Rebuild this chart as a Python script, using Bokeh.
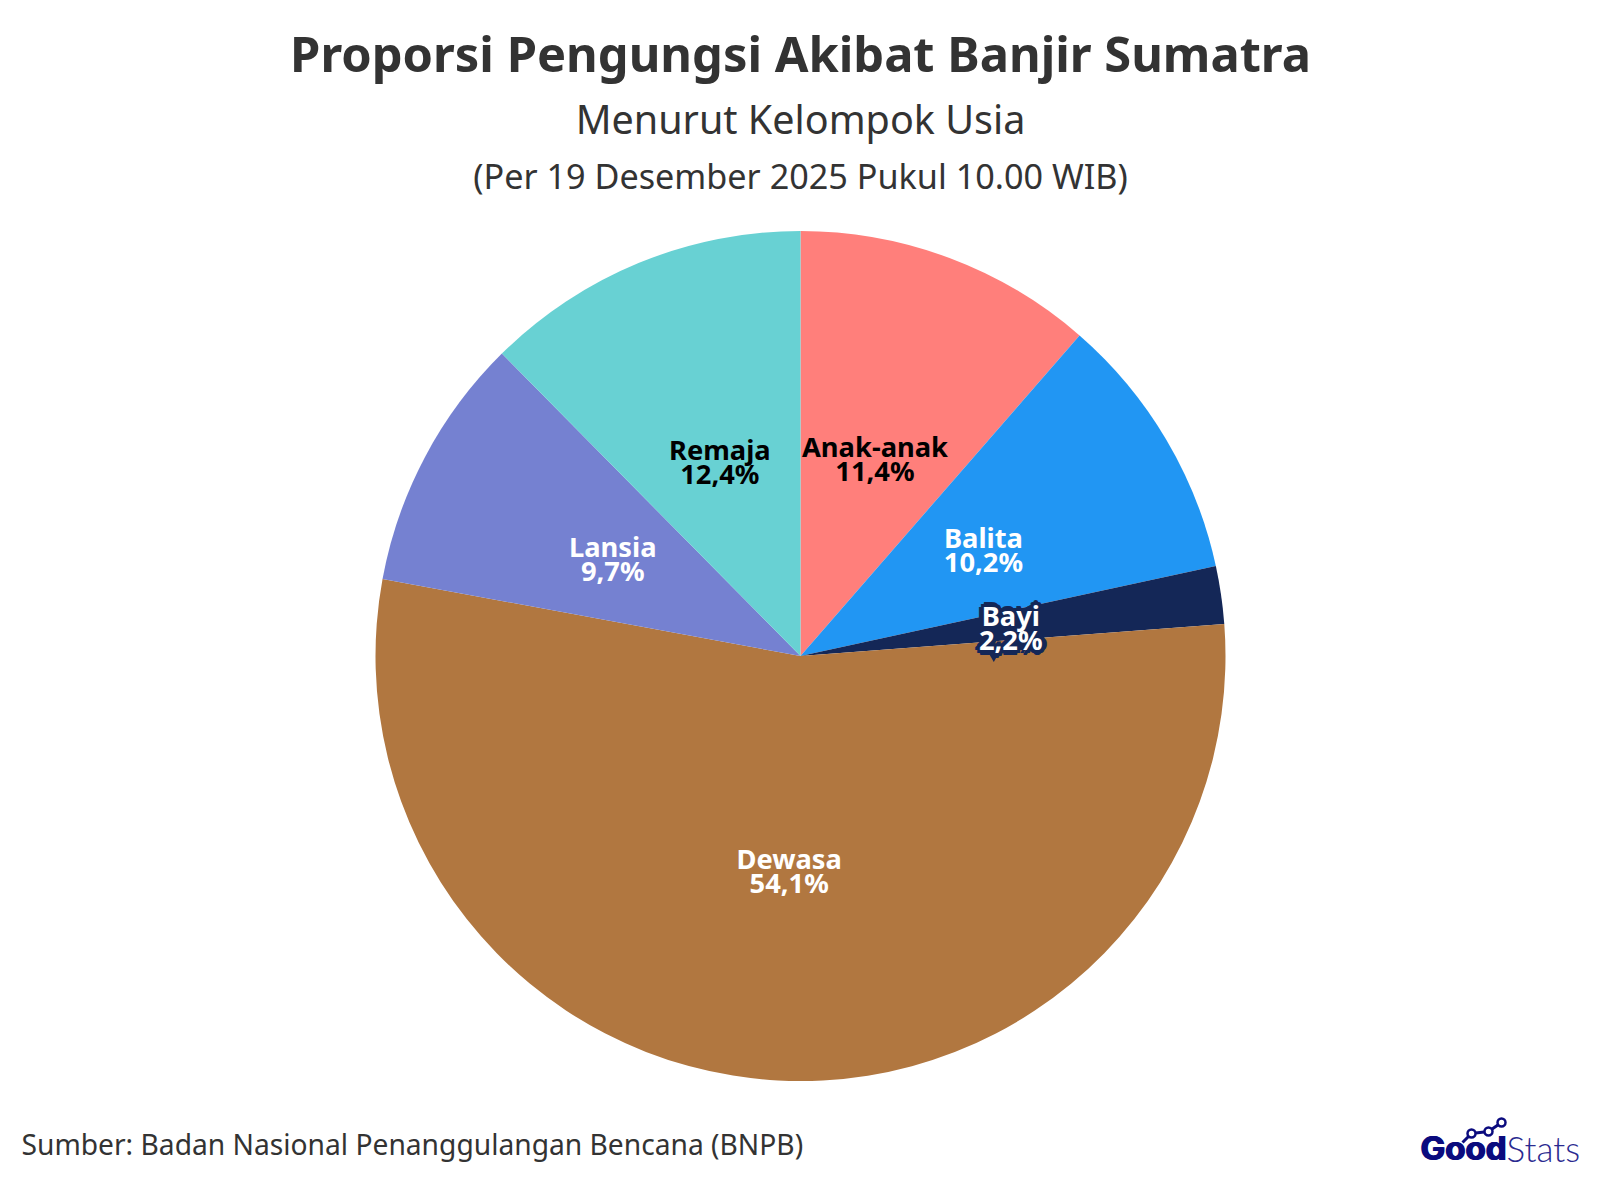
from math import pi, sin, cos
from bokeh.plotting import figure
from bokeh.models import ColumnDataSource, Range1d
from bokeh.core.properties import value
from bokeh.embed import file_html
from bokeh.resources import INLINE

categories = ["Anak-anak", "Balita", "Bayi", "Dewasa", "Lansia", "Remaja"]
values = [11.4, 10.2, 2.2, 54.1, 9.7, 12.4]
value_labels = ["11,4%", "10,2%", "2,2%", "54,1%", "9,7%", "12,4%"]
colors = ["#FF7F7B", "#2196F3", "#142757", "#B17740", "#7581D1", "#68D1D3"]
label_colors = ["#000000", "#FFFFFF", "#FFFFFF", "#FFFFFF", "#FFFFFF", "#000000"]
title = "Proporsi Pengungsi Akibat Banjir Sumatra"
subtitle = "Menurut Kelompok Usia"
subtitle2 = "(Per 19 Desember 2025 Pukul 10.00 WIB)"
source_text = "Sumber: Badan Nasional Penanggulangan Bencana (BNPB)"

W, H = 1598, 1188
CX, CY, R = 800, 655.5, 425
Y = lambda v: H - v

p = figure(width=W - 16, height=H - 16, x_range=Range1d(0, W - 16), y_range=Range1d(16, H),
           output_backend="svg", toolbar_location=None, min_border=0, outline_line_color=None)
p.axis.visible = False
p.grid.visible = False
p.background_fill_color = "#FFFFFF"

total = sum(values)
starts, ends, mids = [], [], []
c = 0.0
for v in values:
    a0 = pi / 2 - 2 * pi * c / total
    c += v
    a1 = pi / 2 - 2 * pi * c / total
    starts.append(a1); ends.append(a0); mids.append((a0 + a1) / 2)

src = ColumnDataSource(dict(start=starts, end=ends, color=colors,
                            x=[CX] * 6, y=[Y(CY)] * 6))
p.wedge(x="x", y="y", radius=R, start_angle="start", end_angle="end",
        fill_color="color", line_color=None, source=src)

FONT_L = value("Noto Sans")
LS = "27.3px"
OFF_A, OFF_B = -10, 14
lx = [CX + R * 0.5 * cos(m) for m in mids]
ly = [Y(CY) + R * 0.5 * sin(m) for m in mids]

# halo for the Bayi label
i = categories.index("Bayi")
p.scatter([lx[i] - 17], [ly[i] - 29], size=13, marker="inverted_triangle", fill_color=colors[i], line_color=None)
for dx, dy in [(-4, 0), (4, 0), (0, -4), (0, 4), (-3, -3), (3, -3), (-3, 3), (3, 3),
               (-5, 0), (5, 0), (0, 5), (0, -5)]:
    for txt, oy in ((categories[i], OFF_A), (value_labels[i], OFF_B)):
        p.text([lx[i]], [ly[i]], text=[txt], x_offset=dx, y_offset=oy + dy, text_align="center",
               text_baseline="middle", text_font=FONT_L, text_font_size=LS,
               text_font_style="bold", text_color=colors[i])

n = len(categories)
p.text(lx, ly, text=categories, y_offset=[OFF_A] * n, text_align="center", text_baseline="middle",
       text_font=FONT_L, text_font_size=LS, text_font_style="bold", text_color=label_colors)
p.text(lx, ly, text=value_labels, y_offset=[OFF_B] * n, text_align="center", text_baseline="middle",
       text_font=FONT_L, text_font_size=LS, text_font_style="bold", text_color=label_colors)

def t(x, y, s, size, color="#333333", style="normal", align="center", font="Noto Sans"):
    return p.text([x], [Y(y)], text=[s], text_align=align, text_baseline="middle", text_font=value(font),
                  text_font_size=size, text_font_style=style, text_color=color)

t(800, 52, title, "48.8px", style="bold")
t(800, 118, subtitle, "39.5px")
t(800, 175, subtitle2, "34.2px")
t(21, 1143, source_text, "28.2px", align="left")

# logo
NAVY = "#0B0B7E"
for dx in (-0.7, 0, 0.7):
    t(1420 + dx, 1147, "Good", "33px", color=NAVY, style="bold", align="left", font="Inter")
t(1506, 1147, "Stats", "35px", color="#2A2A90", align="left", font="Lato Light")
lgx = [1462, 1471, 1488, 1501]
lgy = [1142, 1133, 1131, 1122]
p.line(lgx, [Y(v) for v in lgy], line_color=NAVY, line_width=3)
p.scatter(lgx[1:], [Y(v) for v in lgy[1:]], size=8, marker="circle", fill_color="#FFFFFF",
          line_color=NAVY, line_width=2.5)

open("out.html", "w").write(file_html(p, INLINE))
